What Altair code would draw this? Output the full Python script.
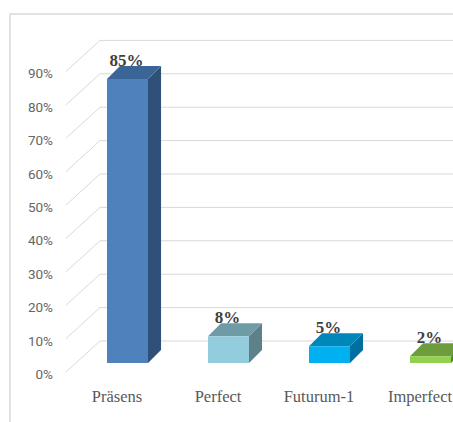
import altair as alt
import pandas as pd

# ---- data ----
categories = ["Präsens", "Perfect", "Futurum-1", "Imperfect"]
values = [85, 8, 5, 2]
value_labels = ["85%", "8%", "5%", "2%"]
front_colors = ["#4f81bd", "#93cddd", "#00b0f0", "#92d050"]
top_colors = ["#3b6596", "#6f9ba6", "#0087ba", "#6e9c3c"]
side_colors = ["#2f5079", "#5e8189", "#006f9f", "#5a8030"]
ticks = [0, 10, 20, 30, 40, 50, 60, 70, 80, 90]
tick_labels = ["0%", "10%", "20%", "30%", "40%", "50%", "60%", "70%", "80%", "90%"]

# ---- style / geometry constants (in scale units) ----
HALF = 0.203      # half width of front face (category units)
DX = 0.129        # bar depth, horizontal
DY = 3.9          # bar depth, vertical (percent units)
WALL_FX, WALL_BX, WALL_END = -0.609, -0.272, 3.6
WALL_FDY, WALL_BDY = -2.69, 6.59

xs = alt.Scale(domain=[-1.2624, 3.2228], nice=False, zero=False)
ys = alt.Scale(domain=[-17.665, 108.683], nice=False, zero=False)

# gridlines (floor diagonal + back wall)
grid_rows = []
for t in ticks:
    grid_rows += [
        {"t": t, "o": 0, "x": WALL_FX, "y": t + WALL_FDY},
        {"t": t, "o": 1, "x": WALL_BX, "y": t + WALL_BDY},
        {"t": t, "o": 2, "x": WALL_END, "y": t + WALL_BDY},
    ]
grid = alt.Chart(pd.DataFrame(grid_rows)).mark_line(
    color="#d9d9d9", strokeWidth=1, clip=True
).encode(
    x=alt.X("x:Q", scale=xs, axis=None),
    y=alt.Y("y:Q", scale=ys, axis=None),
    detail="t:N",
    order="o:Q",
)

front_rows, side_rows, top_rows, lab_rows = [], [], [], []
for i, (c, v) in enumerate(zip(categories, values)):
    front_rows.append({"cat": c, "x": i - HALF, "x2": i + HALF, "y": 0, "y2": v,
                       "col": front_colors[i]})
    side_rows += [
        {"cat": c, "x": i + HALF, "y": v, "y2": 0, "col": side_colors[i]},
        {"cat": c, "x": i + HALF + DX, "y": v + DY, "y2": DY, "col": side_colors[i]},
    ]
    top_rows += [
        {"cat": c, "y": v, "x": i - HALF, "x2": i + HALF, "col": top_colors[i]},
        {"cat": c, "y": v + DY, "x": i - HALF + DX, "x2": i + HALF + DX, "col": top_colors[i]},
    ]
    lab_rows.append({"cat": c, "x": i - 0.01, "y": v + DY, "lab": value_labels[i],
                     "cx": i - 0.104, "cy": -10.2})

front = alt.Chart(pd.DataFrame(front_rows)).mark_rect(clip=True).encode(
    x=alt.X("x:Q", scale=xs, axis=None), x2="x2:Q",
    y=alt.Y("y:Q", scale=ys, axis=None), y2="y2:Q",
    fill=alt.Fill("col:N", scale=None),
)
side = alt.Chart(pd.DataFrame(side_rows)).mark_area(orient="vertical", clip=True).encode(
    x=alt.X("x:Q", scale=xs, axis=None),
    y=alt.Y("y:Q", scale=ys, axis=None), y2="y2:Q",
    detail="cat:N",
    fill=alt.Fill("col:N", scale=None),
)
top = alt.Chart(pd.DataFrame(top_rows)).mark_area(orient="horizontal", clip=True).encode(
    y=alt.Y("y:Q", scale=ys, axis=None),
    x=alt.X("x:Q", scale=xs, axis=None), x2="x2:Q",
    detail="cat:N",
    fill=alt.Fill("col:N", scale=None),
)

labdf = pd.DataFrame(lab_rows)
val_text = alt.Chart(labdf).mark_text(
    font="Liberation Serif", fontSize=17, fontWeight="bold", color="#404040",
    baseline="alphabetic", align="center", dy=0
).encode(
    x=alt.X("x:Q", scale=xs, axis=None),
    y=alt.Y("y:Q", scale=ys, axis=None),
    text="lab:N",
)
cat_text = alt.Chart(labdf).mark_text(
    font="Liberation Serif", fontSize=16.5, color="#595959",
    baseline="middle", align="center"
).encode(
    x=alt.X("cx:Q", scale=xs, axis=None),
    y=alt.Y("cy:Q", scale=ys, axis=None),
    text="cat:N",
)

tickdf = pd.DataFrame({"t": [t - 3.6 for t in ticks], "lab": tick_labels,
                       "x": [-0.738] * len(ticks)})
tick_text = alt.Chart(tickdf).mark_text(
    font="Roboto", fontSize=13.5, color="#666666", align="right", baseline="middle"
).encode(
    x=alt.X("x:Q", scale=xs, axis=None),
    y=alt.Y("t:Q", scale=ys, axis=None),
    text="lab:N",
)

border = alt.Chart(pd.DataFrame({"a": [0]})).mark_rect(
    fill=None, stroke="#d9d9d9", strokeWidth=1.5
).encode(
    x=alt.value(10), x2=alt.value(480), y=alt.value(14), y2=alt.value(460)
)

chart = alt.layer(border, grid, side, top, front, val_text, cat_text, tick_text).properties(
    width=453, height=422, padding=0, autosize=alt.AutoSizeParams(type="none"),
    background="white"
).configure_view(stroke=None)

chart.save("out.html", embed_options={"renderer": "svg", "actions": False})
